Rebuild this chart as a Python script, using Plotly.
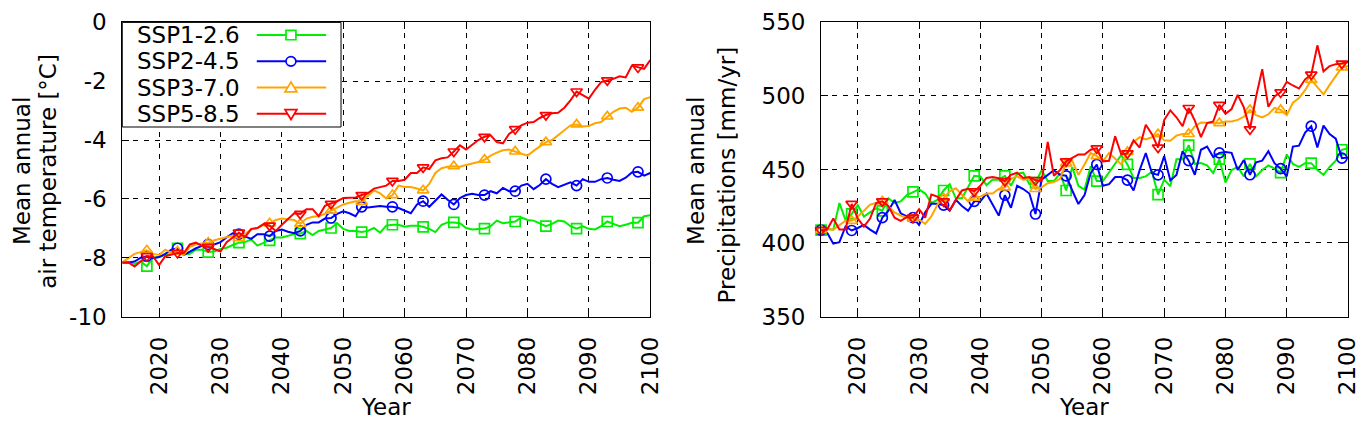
import plotly.graph_objects as go

# ---- data -----------------------------------------------------------------
years = list(range(2014, 2101))
scenarios = ["SSP1-2.6", "SSP2-4.5", "SSP3-7.0", "SSP5-8.5"]

temp_ssp126 = [
    -8.16, -8.16, -8.21, -8.13, -8.29, -8.00, -7.98, -7.91, -7.87, -7.68,
    -7.89, -7.87, -7.73, -7.73, -7.81, -7.79, -7.70, -7.66, -7.57, -7.49,
    -7.47, -7.38, -7.59, -7.49, -7.41, -7.31, -7.31, -7.25, -7.20, -7.18,
    -7.09, -7.23, -7.09, -7.04, -6.99, -6.83, -7.02, -7.09, -7.09, -7.13,
    -7.09, -6.99, -7.15, -6.91, -6.88, -6.88, -6.95, -6.91, -6.91, -6.95,
    -7.02, -7.13, -6.88, -6.80, -6.80, -6.83, -6.99, -7.04, -7.02, -7.01,
    -6.93, -6.74, -6.83, -6.81, -6.77, -6.63, -6.72, -6.74, -6.83, -6.93,
    -6.85, -6.74, -6.77, -6.93, -7.01, -6.93, -7.02, -7.04, -6.93, -6.77,
    -6.85, -6.93, -6.88, -6.81, -6.81, -6.59, -6.56,
]
temp_ssp245 = [
    -8.16, -8.16, -8.13, -8.00, -7.95, -8.02, -7.98, -7.87, -7.73, -7.68,
    -7.91, -7.79, -7.68, -7.60, -7.55, -7.55, -7.47, -7.31, -7.17, -7.20,
    -7.28, -7.36, -7.20, -7.20, -7.27, -7.09, -7.04, -7.12, -7.17, -7.09,
    -6.88, -6.80, -6.80, -6.67, -6.65, -6.51, -6.42, -6.49, -6.59, -6.27,
    -6.29, -6.27, -6.24, -6.27, -6.27, -6.31, -6.40, -6.49, -6.19, -6.08,
    -6.27, -6.06, -5.85, -6.03, -6.19, -5.97, -5.87, -5.83, -5.87, -5.87,
    -5.74, -5.81, -5.63, -5.74, -5.74, -5.55, -5.49, -5.67, -5.53, -5.33,
    -5.49, -5.60, -5.53, -5.44, -5.55, -5.33, -5.42, -5.42, -5.33, -5.29,
    -5.35, -5.39, -5.28, -5.10, -5.08, -5.21, -5.12,
]
temp_ssp370 = [
    -8.16, -8.00, -7.87, -7.81, -7.75, -7.87, -7.91, -7.73, -7.84, -7.79,
    -7.91, -7.63, -7.55, -7.52, -7.49, -7.41, -7.36, -7.31, -7.25, -7.34,
    -7.20, -7.04, -6.99, -6.88, -6.83, -6.72, -6.67, -6.70, -6.72, -6.85,
    -6.67, -6.61, -6.59, -6.51, -6.40, -6.29, -6.19, -6.13, -6.08, -6.10,
    -5.92, -5.71, -5.81, -5.99, -5.87, -5.55, -5.60, -5.60, -5.65, -5.71,
    -5.49, -5.12, -4.96, -4.91, -4.89, -4.91, -4.85, -4.80, -4.75, -4.67,
    -4.53, -4.43, -4.35, -4.32, -4.39, -4.48, -4.53, -4.37, -4.21, -4.07,
    -4.00, -3.84, -3.68, -3.50, -3.47, -3.54, -3.52, -3.43, -3.39, -3.20,
    -3.04, -2.93, -2.90, -3.04, -2.90, -2.61, -2.54,
]
temp_ssp585 = [
    -8.16, -8.16, -8.30, -8.14, -7.95, -7.95, -8.25, -7.95, -7.90, -7.84,
    -7.85, -7.55, -7.49, -7.60, -7.63, -7.72, -7.79, -7.47, -7.31, -7.15,
    -7.30, -7.02, -6.99, -6.86, -6.91, -7.09, -6.88, -6.67, -6.49, -6.51,
    -6.35, -6.35, -6.59, -6.24, -6.17, -6.08, -5.97, -5.95, -5.95, -5.87,
    -5.81, -5.65, -5.60, -5.55, -5.39, -5.39, -5.35, -5.12, -5.12, -4.93,
    -4.99, -4.69, -4.62, -4.59, -4.39, -4.18, -4.32, -4.15, -4.00, -3.89,
    -3.84, -4.07, -4.11, -3.79, -3.63, -3.50, -3.41, -3.39, -3.25, -3.15,
    -3.09, -3.07, -2.90, -2.65, -2.35, -2.47, -2.59, -2.29, -2.03, -1.97,
    -1.92, -1.83, -1.87, -1.47, -1.53, -1.58, -1.28,
]

prec_ssp126 = [
    408.7, 409.5, 409.0, 427.2, 415.5, 419.8, 425.7, 418.0, 420.8, 423.6,
    421.9, 430.4, 427.2, 428.3, 432.5, 434.7, 436.4, 433.6, 427.2, 429.3,
    435.7, 440.0, 430.4, 430.4, 437.9, 445.7, 445.3, 439.3, 443.2, 443.0,
    445.7, 438.9, 447.0, 447.8, 440.0, 441.0, 449.5, 442.1, 442.1, 447.4,
    435.7, 451.7, 438.9, 436.3, 452.1, 442.1, 442.1, 447.8, 453.8, 459.8,
    453.4, 444.2, 444.2, 445.3, 448.5, 432.9, 443.1, 438.5, 457.0, 457.0,
    466.6, 453.8, 454.3, 452.8, 447.5, 457.0, 441.1, 449.6, 451.7, 445.3,
    453.8, 445.3, 449.6, 452.8, 450.6, 447.9, 460.2, 453.8, 451.7, 454.3,
    454.3, 449.6, 446.4, 451.7, 456.0, 463.4, 464.5,
]
prec_ssp245 = [
    408.7, 407.0, 399.5, 400.6, 411.2, 408.5, 410.2, 412.3, 409.1, 406.5,
    417.2, 421.9, 429.3, 420.2, 418.0, 417.2, 412.3, 420.8, 426.6, 426.6,
    425.7, 421.9, 429.3, 425.1, 421.9, 428.3, 428.3, 433.6, 426.1, 418.6,
    432.5, 424.0, 438.9, 436.7, 433.6, 419.7, 443.1, 446.3, 449.5, 446.3,
    445.7, 435.7, 426.5, 432.5, 447.4, 453.4, 438.9, 440.0, 444.8, 444.8,
    442.7, 435.7, 449.5, 461.2, 447.4, 446.3, 459.1, 442.5, 446.3, 462.4,
    456.0, 446.4, 463.4, 465.6, 458.5, 461.3, 461.9, 461.3, 449.6, 456.4,
    446.4, 454.9, 456.0, 462.4, 454.3, 450.6, 445.3, 465.6, 466.2, 475.1,
    479.4, 465.0, 479.8, 474.1, 470.9, 457.7, 458.1,
]
prec_ssp370 = [
    408.7, 409.5, 409.1, 412.3, 415.1, 415.1, 418.0, 421.9, 426.1, 427.2,
    428.3, 425.0, 420.8, 418.7, 417.2, 416.6, 415.9, 413.0, 418.0, 426.1,
    430.4, 435.1, 437.2, 432.5, 428.3, 430.8, 431.5, 433.6, 433.6, 436.7,
    437.8, 443.6, 445.3, 443.1, 443.6, 436.7, 437.8, 440.6, 441.4, 443.6,
    454.2, 455.9, 446.3, 453.4, 461.2, 459.1, 455.5, 461.2, 457.6, 453.4,
    461.9, 468.7, 471.9, 470.4, 471.9, 474.0, 469.8, 469.5, 473.0, 474.1,
    474.1, 479.4, 482.0, 482.0, 481.5, 481.5, 482.6, 482.6, 483.7, 485.8,
    490.5, 486.9, 485.4, 487.5, 491.8, 490.5, 486.9, 495.4, 498.6, 503.9,
    510.9, 506.0, 501.1, 507.5, 513.9, 519.4, 520.3,
]
prec_ssp585 = [
    408.7, 409.1, 416.6, 409.1, 409.1, 426.6, 416.6, 411.2, 416.6, 427.2,
    428.3, 425.1, 417.2, 415.1, 417.6, 417.2, 423.0, 417.2, 433.0, 431.5,
    428.3, 422.3, 429.3, 435.7, 436.8, 435.1, 438.9, 444.2, 444.9, 444.0,
    442.1, 446.3, 447.8, 444.2, 444.8, 442.7, 442.1, 468.7, 445.7, 449.5,
    455.5, 457.6, 460.2, 460.2, 463.4, 464.4, 455.5, 455.9, 472.5, 460.2,
    461.0, 469.8, 464.9, 480.4, 474.0, 464.9, 483.6, 490.2, 485.5, 479.4,
    491.8, 483.2, 472.0, 481.5, 482.6, 493.9, 487.9, 491.1, 500.7, 492.2,
    477.3, 499.6, 518.2, 492.6, 499.6, 502.4, 509.6, 507.1, 505.0, 511.3,
    514.5, 534.4, 516.7, 520.3, 521.6, 522.0, 523.1,
]

year_ticks = [2020, 2030, 2040, 2050, 2060, 2070, 2080, 2090, 2100]
temp_ticks = [-10, -8, -6, -4, -2, 0]
temp_tick_labels = ["-10", "-8", "-6", "-4", "-2", "0"]
prec_ticks = [350, 400, 450, 500, 550]
prec_tick_labels = ["350", "400", "450", "500", "550"]

# ---- style ----------------------------------------------------------------
# the page keeps the browser's 8px body margin, so the figure is the window
# minus 16px each way and every page position below is shifted by PAD
PAGE_W, PAGE_H, PAD = 1370, 436, 8
W, H = PAGE_W - 2 * PAD, PAGE_H - 2 * PAD
FONT = "DejaVu Sans"
FS = 23
colors = ["#00ee00", "#0000ff", "#ffa500", "#ff0000"]
symbols = ["square-open", "circle-open", "triangle-up-open", "triangle-down-open"]


def fx(px):
    """Page x pixel -> paper fraction."""
    return (px - PAD) / W


def fy(py):
    """Page y pixel -> paper fraction."""
    return 1 - (py - PAD) / H


fig = go.Figure()

panels = [
    ("x", "y", [temp_ssp126, temp_ssp245, temp_ssp370, temp_ssp585], 2018),
    ("x2", "y2", [prec_ssp126, prec_ssp245, prec_ssp370, prec_ssp585], 2014),
]
for xa, ya, series, first_mark in panels:
    for name, vals, col, sym in zip(scenarios, series, colors, symbols):
        fig.add_trace(go.Scatter(
            x=years, y=vals, mode="lines", xaxis=xa, yaxis=ya,
            line=dict(color=col, width=2), showlegend=False, name=name,
        ))
        # gnuplot-like pointinterval: one marker every 5 years
        mx = [yr for yr in years if yr >= first_mark and (yr - first_mark) % 5 == 0]
        my = [v for yr, v in zip(years, vals) if yr in mx]
        fig.add_trace(go.Scatter(
            x=mx, y=my, mode="markers", xaxis=xa, yaxis=ya, cliponaxis=False,
            marker=dict(symbol=sym, size=10, color=col, line=dict(width=1.7, color=col)),
            showlegend=False, name=name,
        ))

axis_common = dict(
    showline=True, linecolor="black", linewidth=1, mirror="allticks",
    ticks="inside", ticklen=7, tickcolor="black", tickwidth=1,
    showgrid=True, gridcolor="black", gridwidth=1, griddash="5px,6px",
    zeroline=False, tickfont=dict(family=FONT, size=FS, color="black"),
    ticklabelstandoff=10, ticklabeloverflow="allow",
)

fig.update_layout(
    width=W, height=H, autosize=False,
    margin=dict(l=0, r=0, t=0, b=0),
    paper_bgcolor="white", plot_bgcolor="white",
    font=dict(family=FONT, size=FS, color="black"),
    showlegend=False,
    xaxis=dict(domain=[fx(123.3), fx(656)], range=[2014, 2100], anchor="y",
               tickvals=year_ticks, tickangle=-90, **axis_common),
    yaxis=dict(domain=[fy(323), fy(9.5)], range=[-10, 0], anchor="x",
               tickvals=temp_ticks, ticktext=temp_tick_labels, **axis_common),
    xaxis2=dict(domain=[fx(828.3), fx(1360)], range=[2014, 2100], anchor="y2",
                tickvals=year_ticks, tickangle=-90, **axis_common),
    yaxis2=dict(domain=[fy(323), fy(9.5)], range=[350, 550], anchor="x2",
                tickvals=prec_ticks, ticktext=prec_tick_labels, **axis_common),
)

# axis titles (each y title line placed on its own so the first stays inside the page)
titles = [
    ("Year", 389.6, 419, 0),
    ("Year", 1094, 419, 0),
    ("Mean annual", 22, 168, -90),
    ("air temperature [°C]", 48, 168, -90),
    ("Mean annual", 702, 168, -90),
    ("Precipitations [mm/yr]", 733, 172, -90),
]
for txt, x, y, ang in titles:
    fig.add_annotation(text=txt, x=fx(x), y=fy(y), xref="paper", yref="paper",
                       xanchor="center", yanchor="middle", textangle=ang,
                       showarrow=False, font=dict(family=FONT, size=FS, color="black"))

# legend box (gnuplot style: label then sample)
fig.add_shape(type="rect", xref="paper", yref="paper",
              x0=fx(123.3), x1=fx(344), y0=fy(121), y1=fy(9.5),
              fillcolor="white", line=dict(color="black", width=1), layer="above")
rows = [23, 51, 79, 107]
r = 5
for name, col, sym, ry in zip(scenarios, colors, symbols, rows):
    fig.add_annotation(text=name, x=fx(136), y=fy(ry), xref="paper", yref="paper",
                       xanchor="left", yanchor="middle", showarrow=False,
                       font=dict(family=FONT, size=FS, color="black"))
    fig.add_shape(type="line", xref="paper", yref="paper",
                  x0=fx(259), x1=fx(329), y0=fy(ry), y1=fy(ry),
                  line=dict(color=col, width=2))
    cx = 293.5
    mline = dict(color=col, width=1.7)
    if sym == "square-open":
        fig.add_shape(type="rect", xref="paper", yref="paper",
                      x0=fx(cx - r), x1=fx(cx + r), y0=fy(ry + r), y1=fy(ry - r),
                      fillcolor="white", line=mline)
    elif sym == "circle-open":
        fig.add_shape(type="circle", xref="paper", yref="paper",
                      x0=fx(cx - r), x1=fx(cx + r), y0=fy(ry + r), y1=fy(ry - r),
                      fillcolor="white", line=mline)
    else:
        s = 1 if sym == "triangle-up-open" else -1
        pts = [(cx, ry - s * 6), (cx - 6, ry + s * 4.5), (cx + 6, ry + s * 4.5)]
        path = "M " + " L ".join(f"{fx(a):.5f},{fy(b):.5f}" for a, b in pts) + " Z"
        fig.add_shape(type="path", xref="paper", yref="paper", path=path,
                      fillcolor="white", line=mline)

fig.write_html("out.html", config={"displayModeBar": False})
